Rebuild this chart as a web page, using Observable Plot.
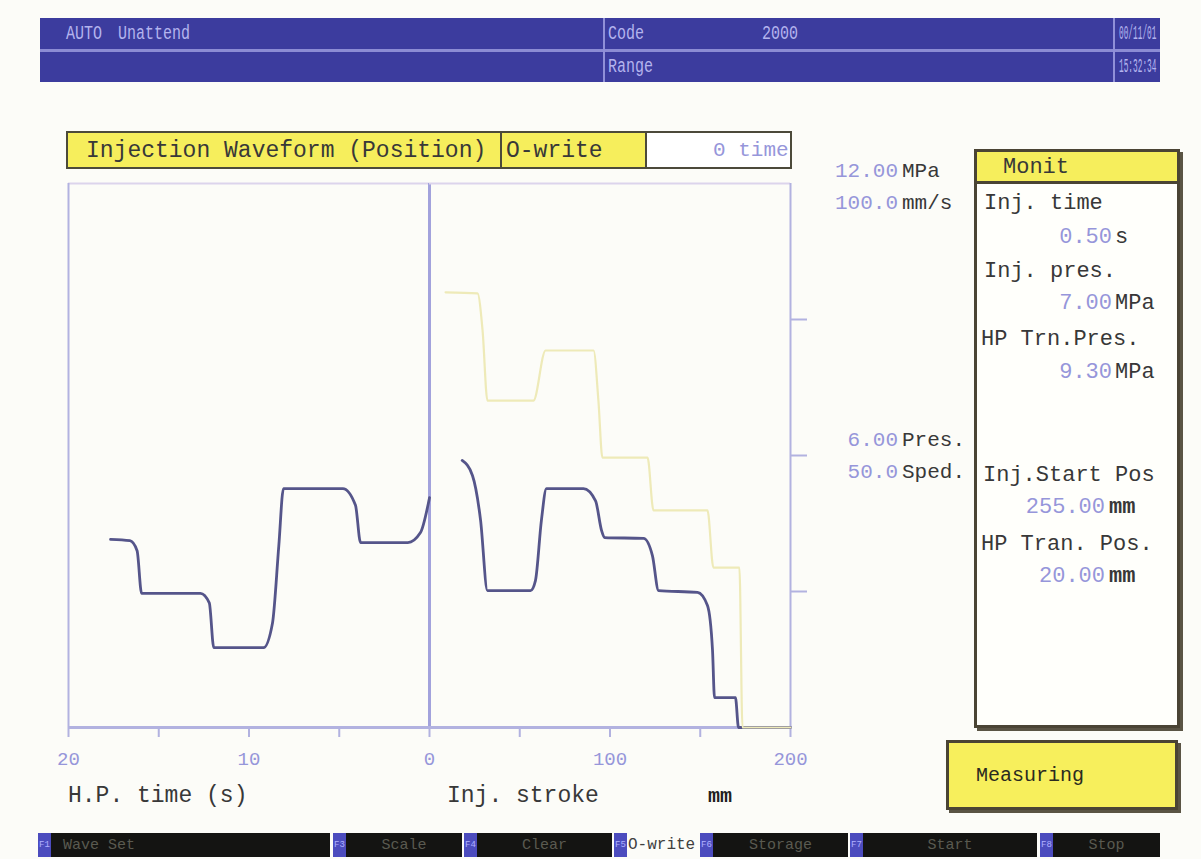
<!DOCTYPE html>
<html><head><meta charset="utf-8">
<script src="https://cdn.jsdelivr.net/npm/d3@7"></script>
<script src="https://cdn.jsdelivr.net/npm/@observablehq/plot@0.6"></script>
<style>
html,body{margin:0;padding:0;background:#fcfcf8;}
#page{position:relative;width:1201px;height:859px;overflow:hidden;font-family:"Liberation Mono","DejaVu Sans Mono",monospace;color:#383838;}
.t{position:absolute;white-space:pre;line-height:1;transform-origin:left center;}
.box{position:absolute;box-sizing:border-box;}
#page svg{position:absolute;left:0;top:0;pointer-events:none;}
</style></head>
<body><div id="page"></div>
<script>
// ---------- data ----------
const PMAX = 12;      // MPa at top of chart
const VMAX = 100;     // mm/s at top of chart
// H.P. section (time, s, counting down to 0) – pressure MPa
const hpTime = [17.67, 16.6, 16.2, 15.95, 12.69, 12.2, 11.95, 9.2, 8.7, 8.35, 8.09, 4.8, 4.1, 3.82, 1.2, 0.5, 0];
const hpPres = [4.15, 4.12, 3.9, 2.96, 2.96, 2.75, 1.76, 1.76, 2.3, 4.0, 5.27, 5.27, 4.9, 4.08, 4.08, 4.3, 5.07];
// injection section (stroke, mm) – pressure MPa
const injStroke = [18.1, 23.8, 28.3, 32.1, 56.0, 58.7, 62.0, 64.8, 85.3, 92.0, 95.3, 97.0, 118.6, 123.5, 126.9, 148.5, 154.0, 156.8, 157.9, 169.5, 171.2, 200];
const injPres   = [5.89, 5.56, 4.57, 3.02, 3.02, 3.24, 4.57, 5.27, 5.27, 5.0, 4.35, 4.19, 4.17, 3.79, 3.02, 2.98, 2.69, 1.70, 0.66, 0.66, 0, 0];
// injection section (stroke, mm) – speed mm/s
const spdStroke = [8.9, 26.6, 29.4, 32.1, 57.6, 64.3, 90.9, 93.6, 95.8, 120.8, 124.1, 154.0, 157.3, 171.7, 173.4, 200];
const spdVals   = [80.0, 79.8, 73.0, 60.1, 60.1, 69.3, 69.3, 60.0, 49.6, 49.6, 39.9, 39.9, 29.4, 29.4, 0, 0];
// ticks
const hpTicks = [20, 15, 10, 5, 0];
const hpTickLabels = [20, 10, 0];
const injTicks = [50, 100, 150, 200];
const injTickLabels = [100, 200];
const yTicks = [3, 6, 9];

const hpData = hpTime.map((t, i) => ({t, p: hpPres[i]}));
const injData = injStroke.map((s, i) => ({s, p: injPres[i]}));
const spdData = spdStroke.map((s, i) => ({s, v: spdVals[i]}));

// ---------- style ----------
const axisCol = "#b2b2e0";
const midCol = "#a2a2dc";
const labelCol = "#9696da";
const presCol = "#55558a";
const spdCol = "#eeeab8";
const page = document.getElementById("page");

function box(x, y, w, h, css) {
  const d = document.createElement("div");
  d.className = "box";
  Object.assign(d.style, {left: x + "px", top: y + "px", width: w + "px", height: h + "px"}, css || {});
  page.appendChild(d);
  return d;
}
function txt(s, x, y, o) {
  o = o || {};
  const d = document.createElement("div");
  d.className = "t";
  d.textContent = s;
  const tx = o.align === "right" ? "-100%" : (o.align === "center" ? "-50%" : "0");
  Object.assign(d.style, {
    left: x + "px", top: y + "px",
    fontSize: (o.size || 22) + "px",
    color: o.color || "#383838",
    fontWeight: o.weight || "normal",
    transform: `translate(${tx},-50%)` + ((o.sy || o.sx) ? ` scale(${o.sx || 1},${o.sy || 1})` : ""),
    fontFamily: o.font || ""
  });
  (o.parent || page).appendChild(d);
  return d;
}

// ---------- top status bar ----------
box(40, 18, 1120, 64, {background: "#3c3c9e"});
box(40, 49, 1120, 3, {background: "#8c8cd4"});
box(603, 18, 2, 64, {background: "#9090d8"});
box(1113, 18, 2, 64, {background: "#9090d8"});
const barTxt = {size: 15, color: "#b4b4ee", sy: 1.35};
txt("AUTO", 66, 34, barTxt);
txt("Unattend", 118, 34, barTxt);
txt("Code", 608, 34, barTxt);
txt("2000", 762, 34, barTxt);
txt("00/11/01", 1119, 34, {...barTxt, sx: 0.52});
txt("Range", 608, 67, barTxt);
txt("15:32:34", 1119, 67, {...barTxt, sx: 0.52});

// ---------- title box ----------
box(66, 131, 726, 38, {background: "#f6ee5c", border: "2px solid #4c4a3a"});
box(500, 131, 2, 38, {background: "#4c4a3a"});
box(645, 131, 2, 38, {background: "#4c4a3a"});
const wb = box(647, 133, 143, 34, {background: "#ffffff", overflow: "hidden"});
txt("Injection Waveform (Position)", 86, 151, {size: 23});
txt("O-write", 506, 151, {size: 23});
txt("0 time", 66, 17, {size: 21, color: labelCol, parent: wb});

// ---------- charts ----------
const common = {
  width: 1201, height: 859, marginTop: 183, marginBottom: 132,
  y: {domain: [0, PMAX], axis: null},
  style: {background: "transparent", overflow: "visible", fontFamily: "Liberation Mono, DejaVu Sans Mono, monospace"}
};
const leftPlot = Plot.plot({
  ...common,
  marginLeft: 68, marginRight: 1201 - 429,
  x: {domain: [20, 0]},
  marks: [
    Plot.ruleY([PMAX], {stroke: "#dcd4ec", strokeWidth: 2}),
    Plot.ruleX([20], {stroke: axisCol, strokeWidth: 2}),
    Plot.ruleX([0], {stroke: midCol, strokeWidth: 3}),
    Plot.ruleY([0], {stroke: axisCol, strokeWidth: 3}),
    Plot.axisX({ticks: hpTicks, tickSize: 10, tickFormat: () => "", label: null, color: axisCol, strokeWidth: 2}),
    Plot.axisX({ticks: hpTickLabels, tickSize: 0, tickPadding: 24, fontSize: 19, label: null, color: labelCol}),
    Plot.line(hpData, {x: "t", y: "p", curve: "monotone-x", stroke: presCol, strokeWidth: 2.8})
  ]
});
const rightPlot = Plot.plot({
  ...common,
  marginLeft: 429, marginRight: 1201 - 790,
  x: {domain: [0, 200]},
  marks: [
    Plot.ruleY([PMAX], {stroke: "#dcd4ec", strokeWidth: 2}),
    Plot.ruleX([200], {stroke: axisCol, strokeWidth: 2}),
    Plot.ruleY([0], {stroke: axisCol, strokeWidth: 3}),
    Plot.axisX({ticks: injTicks, tickSize: 10, tickFormat: () => "", label: null, color: axisCol, strokeWidth: 2}),
    Plot.axisX({ticks: injTickLabels, tickSize: 0, tickPadding: 24, fontSize: 19, label: null, color: labelCol}),
    Plot.axisY({ticks: yTicks, anchor: "right", tickSize: 16, tickFormat: () => "", label: null, color: axisCol, strokeWidth: 2}),
    Plot.line(injData, {x: "s", y: "p", curve: "monotone-x", stroke: presCol, strokeWidth: 2.8}),
    Plot.line(spdData, {x: "s", y: d => d.v * PMAX / VMAX, curve: "monotone-x", stroke: spdCol, strokeWidth: 2.2})
  ]
});
page.appendChild(leftPlot);
page.appendChild(rightPlot);

// axis titles
txt("H.P. time (s)", 68, 796, {size: 23});
txt("Inj. stroke", 447, 796, {size: 23});
txt("mm", 708, 797, {size: 20, weight: "bold", color: "#202020"});

// right scale labels
txt("12.00", 898, 171, {size: 21, color: labelCol, align: "right"});
txt("MPa", 902, 171, {size: 21});
txt("100.0", 898, 203, {size: 21, color: labelCol, align: "right"});
txt("mm/s", 902, 203, {size: 21});
txt("6.00", 898, 440, {size: 21, color: labelCol, align: "right"});
txt("Pres.", 902, 440, {size: 21});
txt("50.0", 898, 472, {size: 21, color: labelCol, align: "right"});
txt("Sped.", 902, 472, {size: 21});

// ---------- Monit panel ----------
box(974, 149, 206, 579, {background: "#fffffb", border: "3px solid #4a4434", boxShadow: "3px 3px 0 #5a5444"});
box(977, 152, 200, 32, {background: "#f6ee5c", borderBottom: "3px solid #4a4434"});
txt("Monit", 1003, 168, {size: 22});
txt("Inj. time", 984, 204, {size: 22});
txt("0.50", 1112, 238, {size: 22, color: labelCol, align: "right"});
txt("s", 1115, 238, {size: 22});
txt("Inj. pres.", 984, 272, {size: 22});
txt("7.00", 1112, 304, {size: 22, color: labelCol, align: "right"});
txt("MPa", 1115, 304, {size: 22});
txt("HP Trn.Pres.", 981, 340, {size: 22});
txt("9.30", 1112, 373, {size: 22, color: labelCol, align: "right"});
txt("MPa", 1115, 373, {size: 22});
txt("Inj.Start Pos", 983, 476, {size: 22});
txt("255.00", 1105, 508, {size: 22, color: labelCol, align: "right"});
txt("mm", 1109, 508, {size: 22, weight: "bold"});
txt("HP Tran. Pos.", 981, 545, {size: 22});
txt("20.00", 1105, 577, {size: 22, color: labelCol, align: "right"});
txt("mm", 1109, 577, {size: 22, weight: "bold"});

// ---------- Measuring box ----------
box(946, 740, 232, 70, {background: "#f7ef5c", border: "3px solid #4a4434", boxShadow: "3px 3px 0 #5a5444"});
txt("Measuring", 976, 776, {size: 20, color: "#2a2a20"});

// ---------- function key bar ----------
const keys = [
  {k: "F1", kx: 38, bx: 51, bw: 279, label: "Wave Set", on: false},
  {k: "F3", kx: 333, bx: 346, bw: 116, label: "Scale", on: false},
  {k: "F4", kx: 464, bx: 477, bw: 135, label: "Clear", on: false},
  {k: "F5", kx: 614, bx: 627, bw: 73, label: "O-write", on: true},
  {k: "F6", kx: 700, bx: 713, bw: 135, label: "Storage", on: false},
  {k: "F7", kx: 850, bx: 863, bw: 174, label: "Start", on: false},
  {k: "F8", kx: 1040, bx: 1053, bw: 107, label: "Stop", on: false}
];
keys.forEach(o => {
  box(o.kx, 833, 13, 24, {background: "#4c4cbe"});
  txt(o.k, o.kx + 1, 845, {size: 9, color: "#b0b0ff"});
  if (!o.on) {
    box(o.bx, 833, o.bw, 24, {background: "#141412"});
    txt(o.label, o.bx + (o.label === "Wave Set" ? 12 : o.bw / 2), 845, {size: 15, color: "#5a5a50", align: o.label === "Wave Set" ? "left" : "center"});
  } else {
    txt(o.label, o.bx + 1, 845, {size: 16, color: "#404040"});
  }
});
</script></body></html>
